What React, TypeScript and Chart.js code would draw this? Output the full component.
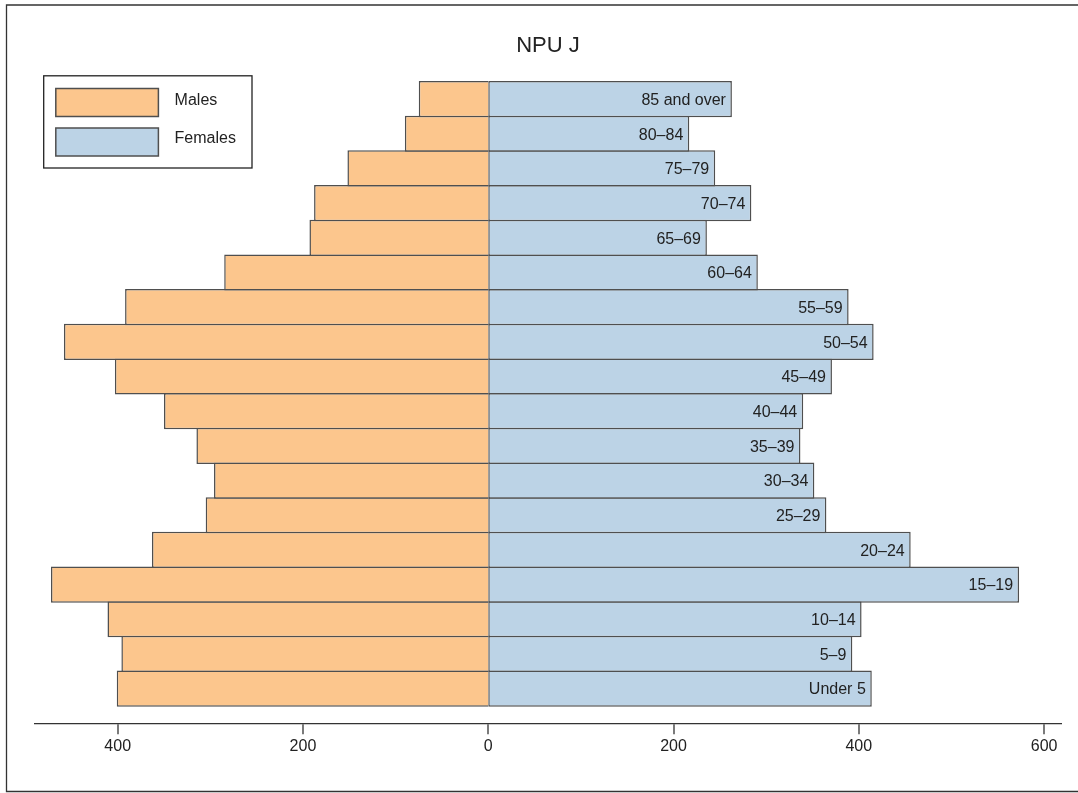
import React, { useEffect, useRef } from 'react';
import { Chart, registerables } from 'chart.js';

Chart.register(...registerables);

// ---- data (bottom to top) ----
const ageGroups = [
  'Under 5', '5–9', '10–14', '15–19', '20–24', '25–29', '30–34', '35–39', '40–44',
  '45–49', '50–54', '55–59', '60–64', '65–69', '70–74', '75–79', '80–84', '85 and over',
];
const males = [401, 396, 411, 472, 363, 305, 296, 315, 350, 403, 458, 392, 285, 193, 188, 152, 90, 75];
const females = [414, 393, 403, 573, 456, 365, 352, 337, 340, 371, 416, 389, 291, 236, 284, 245, 217, 263];
const xTickValues = [-400, -200, 0, 200, 400, 600];
const chartTitle = 'NPU J';
const seriesNames = ['Males', 'Females'];

// ---- style ----
const FONT = '"Liberation Sans", Arial, Helvetica, sans-serif';
const MALE_COLOR = '#FCC68D';
const FEMALE_COLOR = '#BCD3E6';
const EDGE = '#4f4f4f';
const INK = '#222222';

export default function App() {
  const ref = useRef<HTMLCanvasElement>(null);

  useEffect(() => {
    const canvas = ref.current;
    if (!canvas) return;

    const framePlugin = {
      id: 'frame',
      beforeDraw(chart: any) {
        const ctx = chart.ctx;
        ctx.save();
        ctx.fillStyle = '#ffffff';
        ctx.fillRect(0, 0, chart.width, chart.height);
        ctx.strokeStyle = '#333333';
        ctx.lineWidth = 1.3;
        ctx.beginPath();
        ctx.moveTo(chart.width + 20, 5);
        ctx.lineTo(6.5, 5);
        ctx.lineTo(6.5, 791.5);
        ctx.lineTo(chart.width + 20, 791.5);
        ctx.stroke();
        ctx.restore();
      },
    };

    const barLabelPlugin = {
      id: 'barLabels',
      afterDatasetsDraw(chart: any) {
        const ctx = chart.ctx;
        const meta = chart.getDatasetMeta(1);
        ctx.save();
        ctx.font = `16px ${FONT}`;
        ctx.fillStyle = INK;
        ctx.textAlign = 'right';
        ctx.textBaseline = 'alphabetic';
        meta.data.forEach((el: any, i: number) => {
          ctx.fillText(ageGroups[i], el.x - 6, el.y + 5.8);
        });
        ctx.restore();
      },
    };

    const boxLegendPlugin = {
      id: 'boxLegend',
      afterDraw(chart: any) {
        const ctx = chart.ctx;
        ctx.save();
        ctx.fillStyle = '#ffffff';
        ctx.fillRect(43.7, 75.8, 208.3, 92.2);
        ctx.strokeStyle = INK;
        ctx.lineWidth = 1.3;
        ctx.strokeRect(43.7, 75.8, 208.3, 92.2);
        const colors = [MALE_COLOR, FEMALE_COLOR];
        const tops = [88.5, 128];
        const centers = [99.3, 137.5];
        ctx.font = `16px ${FONT}`;
        ctx.textAlign = 'left';
        ctx.textBaseline = 'alphabetic';
        seriesNames.forEach((name, i) => {
          ctx.fillStyle = colors[i];
          ctx.fillRect(55.8, tops[i], 102.6, 28);
          ctx.strokeStyle = EDGE;
          ctx.lineWidth = 1.5;
          ctx.strokeRect(55.8, tops[i], 102.6, 28);
          ctx.fillStyle = INK;
          ctx.fillText(name, 174.6, centers[i] + 5.8);
        });
        ctx.restore();
      },
    };

    const chart = new Chart(canvas, {
      type: 'bar',
      data: {
        datasets: [
          {
            label: seriesNames[0],
            data: males.map((v, i) => ({ x: -v, y: i + 1 })),
            backgroundColor: MALE_COLOR,
            borderColor: EDGE,
            borderWidth: 1.5,
            borderSkipped: 'start',
            grouped: false,
            barPercentage: 1.043,
            categoryPercentage: 1,
          } as any,
          {
            label: seriesNames[1],
            data: females.map((v, i) => ({ x: v, y: i + 1 })),
            backgroundColor: FEMALE_COLOR,
            borderColor: EDGE,
            borderWidth: 1.5,
            borderSkipped: false,
            grouped: false,
            barPercentage: 1.043,
            categoryPercentage: 1,
          } as any,
        ],
      },
      options: {
        indexAxis: 'y',
        responsive: false,
        animation: false,
        events: [],
        layout: { padding: { left: 34.3, right: 16.3, top: 0, bottom: 33.5 } },
        scales: {
          x: {
            type: 'linear',
            min: -490,
            max: 619,
            afterBuildTicks: (axis: any) => {
              axis.ticks = xTickValues.map((v) => ({ value: v }));
            },
            ticks: {
              callback: (v: any) => String(Math.abs(Number(v))),
              font: { family: FONT, size: 16 },
              color: INK,
              padding: 3,
              autoSkip: false,
              maxRotation: 0,
            },
            grid: {
              display: true,
              drawOnChartArea: false,
              drawTicks: true,
              tickLength: 11,
              color: '#333333',
              lineWidth: 0,
              tickColor: '#333333',
              tickWidth: 1.3,
            },
            border: { display: true, color: '#333333', width: 1.3 },
          },
          y: {
            type: 'linear',
            min: 0,
            max: 19,
            offset: false,
            display: false,
            ticks: { stepSize: 1 },
            grid: { offset: false },
          },
        },
        plugins: {
          legend: { display: false },
          tooltip: { enabled: false },
          title: {
            display: true,
            text: chartTitle,
            font: { family: FONT, size: 22, weight: 'normal' },
            color: INK,
            padding: { top: 32.5, bottom: 5.5 },
          },
        },
      } as any,
      plugins: [framePlugin, barLabelPlugin, boxLegendPlugin],
    });

    return () => chart.destroy();
  }, []);

  return (
    <div style={{ position: 'fixed', left: 0, top: 0, width: 1078, height: 793, background: '#fff' }}>
      <canvas ref={ref} width={1078} height={793} style={{ display: 'block' }} />
    </div>
  );
}
